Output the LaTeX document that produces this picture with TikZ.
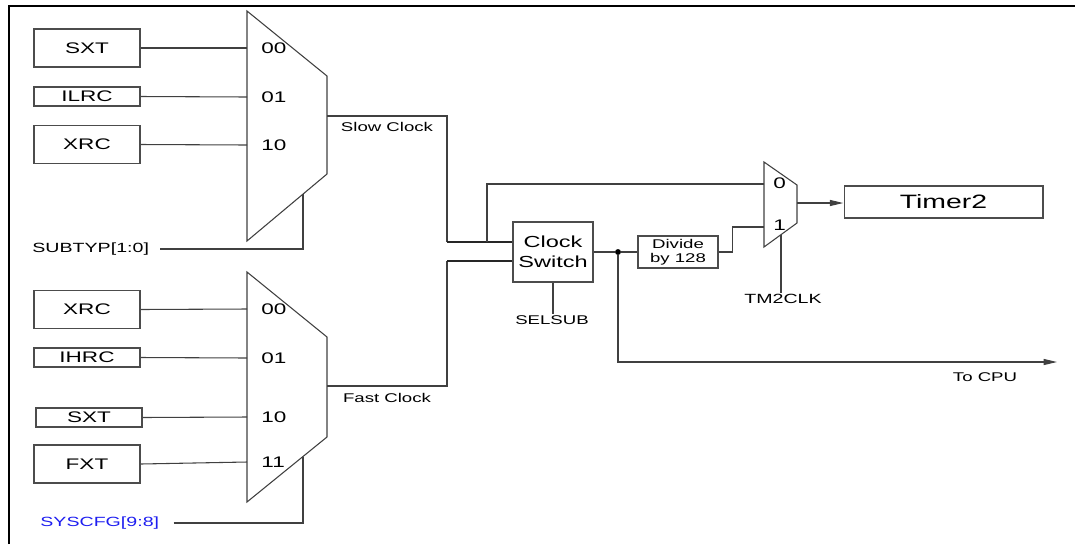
\documentclass[tikz,border=0pt]{standalone}
\usepackage{fontspec}
\setmainfont{Liberation Sans}
\usetikzlibrary{arrows.meta,calc,positioning}
\definecolor{cfgBlue}{HTML}{1E1EF0}
\tikzset{
  >={Triangle[length=10pt,width=4.5pt]},
  widetext/.style={xscale=1.47},
  frame/.style={draw=black, line width=1.7pt},
  wire/.style={draw=black!75, line width=0.8pt},
  buswire/.style={draw=black!85, line width=1.5pt},
  muxshape/.style={draw=black!75, line width=0.8pt, line join=miter},
  blockbox/.style={draw=black!70, line width=0.8pt, widetext, inner sep=0pt, align=center},
  srcbox/.style={blockbox, minimum width=54.1pt, font=\fontsize{11.5}{13}\selectfont},
  srctall/.style={srcbox, minimum height=28.5pt},
  srcshort/.style={srcbox, minimum height=14.25pt},
  muxlabel/.style={widetext, anchor=west, inner sep=0pt, font=\fontsize{11.5}{13}\selectfont},
  sigtext/.style={widetext, inner sep=1pt, font=\fontsize{9.5}{11}\selectfont},
  seltext/.style={widetext, anchor=west, inner sep=0pt, font=\fontsize{10}{12}\selectfont},
  junction/.style={circle, fill=black, minimum size=4.4pt, inner sep=0pt},
}

\begin{document}
\begin{tikzpicture}[x=0.75pt, y=-0.75pt]
  \useasboundingbox (0,0) rectangle (1075,544);

  % ── Outer frame (top and left only) ──
  \draw[frame] (9,544) -- (9,6) -- (1075,6);

  % ── Slow clock multiplexer ──
  \draw[muxshape] (247,11) -- (327,76) -- (327,174) -- (247,241) -- cycle;
  \coordinate (outS) at (327,116);
  \coordinate (selS) at (303,194);
  \node[srctall]  (sxtS)  at (87,48)    {SXT};
  \node[srcshort] (ilrcS) at (87,96.5)  {ILRC};
  \node[srctall]  (xrcS)  at (87,144.5) {XRC};
  \foreach \n/\y/\t in {sxtS/48/00, ilrcS/97/01, xrcS/145/10} {
    \coordinate (in\n) at (247,\y);
    \draw[wire] (\n.east) -- (in\n);
    \node[muxlabel] (lab\n) at (261,\y) {\t};
  }
  \node[seltext] (subtyp) at (32,249) {SUBTYP[1:0]};
  \draw[wire, shorten <=8.25pt] (subtyp.east) -- (subtyp.east -| selS) -- (selS);

  % ── Fast clock multiplexer ──
  \draw[muxshape] (247,272) -- (327,337) -- (327,437) -- (247,502) -- cycle;
  \coordinate (outF) at (327,386);
  \coordinate (selF) at (303,456.5);
  \node[srctall]  (xrcF)  at (87,309.5) {XRC};
  \node[srcshort] (ihrcF) at (87,357.5) {IHRC};
  \node[srcshort] (sxtF)  at (89,417.5) {SXT};
  \node[srctall]  (fxtF)  at (87,464)   {FXT};
  \foreach \n/\y/\t in {xrcF/309/00, ihrcF/358/01, sxtF/417/10, fxtF/462/11} {
    \coordinate (in\n) at (247,\y);
    \draw[wire] (\n.east) -- (in\n);
    \node[muxlabel] (lab\n) at (261,\y) {\t};
  }
  \node[seltext, text=cfgBlue] (syscfg) at (40,523) {SYSCFG[9:8]};
  \draw[wire, shorten <=10.5pt] (syscfg.east) -- (syscfg.east -| selF) -- (selF);

  % ── Clock switch ──
  \node[blockbox, minimum width=40.8pt, minimum height=45pt,
        font=\fontsize{12}{15}\selectfont] (clk) at (553,252) {Clock\\Switch};
  \coordinate (clkinS) at ($(clk.west)+(0,-10)$);
  \coordinate (clkinF) at ($(clk.west)+(0,9)$);
  \coordinate (bendS) at (447,116);
  \coordinate (bendF) at (447,386);
  \draw[wire] (outS) -- (bendS) -- (bendS |- clkinS);
  \draw[buswire] (bendS |- clkinS) -- (clkinS);
  \draw[wire] (outF) -- (bendF) -- (bendF |- clkinF);
  \draw[buswire] (bendF |- clkinF) -- (clkinF);
  \node[sigtext] (slowlbl) at (387,127) {Slow Clock};
  \node[sigtext] (fastlbl) at (387,398) {Fast Clock};
  \node[sigtext] (selsub) at (552,320) {SELSUB};
  \draw[wire] (clk.south) -- (clk.south |- selsub.north);

  % ── Timer2 clock select ──
  \draw[muxshape] (764,162) -- (797,185) -- (797,223) -- (764,247) -- cycle;
  \coordinate (muxT0) at (764,184);
  \coordinate (muxT1) at (764,227);
  \coordinate (outT) at (797,203);
  \coordinate (selT) at (781,234.6);
  \node[muxlabel, font=\fontsize{11.5}{13}\selectfont] (labT0) at (773,183) {0};
  \node[muxlabel, font=\fontsize{11.5}{13}\selectfont] (labT1) at (773,225) {1};
  \coordinate (brS) at (487,0 |- clkinS);
  \draw[wire] (brS) |- (muxT0);

  \node[blockbox, minimum width=40.8pt, minimum height=24pt,
        font=\fontsize{9.5}{10.5}\selectfont] (div) at (678,252) {Divide\\by 128};
  \node[junction] (tap) at (618,252) {};
  \draw[wire] (clk.east) -- (tap) -- (div.west);
  \draw[wire] (div.east) -- ++(14,0) |- (muxT1);

  \node[blockbox, minimum width=101.5pt, minimum height=24pt,
        font=\fontsize{14.5}{16}\selectfont] (tmr) at (943.5,202) {Timer2};
  \draw[wire, ->] (outT) -- (outT -| tmr.west);
  \node[sigtext, font=\fontsize{10}{12}\selectfont] (tm2clk) at (783,299) {TM2CLK};
  \draw[wire] (selT) -- (selT |- tm2clk.north);

  % ── System clock out ──
  \coordinate (cpu) at (1057,362);
  \draw[wire, ->] (tap) |- (cpu);
  \node[sigtext] (tocpu) at (985,377) {To CPU};
\end{tikzpicture}
\end{document}
